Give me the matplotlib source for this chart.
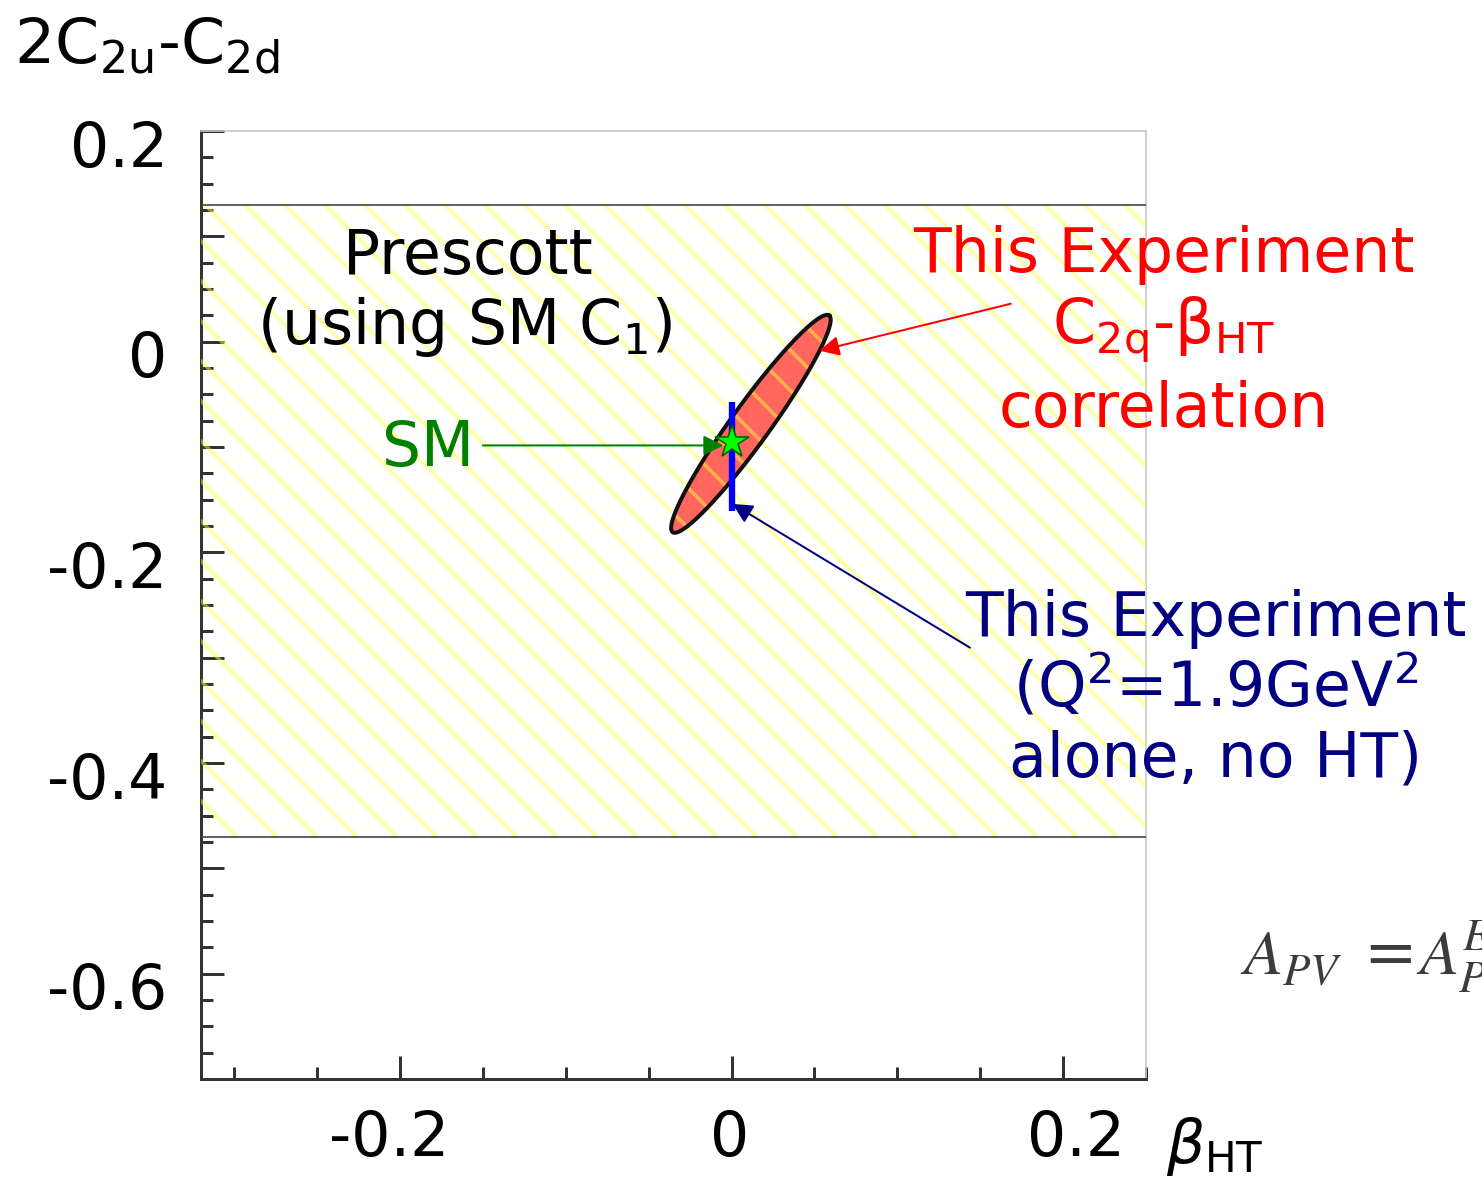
import numpy as np
import matplotlib
matplotlib.use("Agg")
import matplotlib.pyplot as plt
from matplotlib.ticker import MultipleLocator, FixedLocator, FuncFormatter
from matplotlib.transforms import ScaledTranslation

# ---------------- data ----------------
x_range = [-0.32, 0.25]
y_range = [-0.70, 0.20]
prescott_band = [-0.47, 0.13]           # allowed band of 2C2u-C2d (Prescott)
ellipse_center = [0.0117, -0.078]        # this experiment, C2q-beta_HT correlation
ellipse_major = [0.0472, 0.1029]         # half major axis vector
ellipse_minor = [0.0094, -0.0108]        # half minor axis vector
sm_point = [0.0, -0.095]                 # Standard Model
alone_x = 0.0                            # Q^2=1.9 alone, no HT
alone_range = [-0.161, -0.057]
x_major = [-0.2, 0.0, 0.2]
y_major_labels = {0.2: "0.2", 0.0: "0", -0.2: "-0.2", -0.4: "-0.4", -0.6: "-0.6"}

DPI = 120
fig = plt.figure(figsize=(1482 / DPI, 1180 / DPI), dpi=DPI)
plt.rcParams['font.family'] = ['DejaVu Sans']
plt.rcParams['mathtext.default'] = 'regular'
plt.rcParams['hatch.linewidth'] = 2.2

ax = fig.add_axes([201 / 1482, 101 / 1180, 945 / 1482, 948 / 1180])
ax.set_xlim(*x_range)
ax.set_ylim(*y_range)

# ellipse (filled, below the hatch)
t = np.linspace(0, 2 * np.pi, 300)
ex = ellipse_center[0] + ellipse_major[0] * np.cos(t) + ellipse_minor[0] * np.sin(t)
ey = ellipse_center[1] + ellipse_major[1] * np.cos(t) + ellipse_minor[1] * np.sin(t)
ax.fill(ex, ey, facecolor=(1.0, 0.40, 0.37), edgecolor='none', zorder=2)

# Prescott band hatch (drawn over the ellipse, semi-transparent yellow)
ax.fill_between(x_range, prescott_band[0], prescott_band[1], facecolor='none',
                edgecolor=(1.0, 1.0, 0.25, 0.48), hatch='\\', linewidth=0, zorder=3)
for yb in prescott_band:
    ax.axhline(yb, color='#444444', lw=1.0, zorder=3)

# ellipse outline
ax.plot(ex, ey, color='#111111', lw=2.4, zorder=4)

# blue line
ax.plot([alone_x, alone_x], alone_range, color=(0, 0, 1), lw=3.8, zorder=5,
        solid_capstyle='butt')

# SM star
ax.plot(sm_point[0], sm_point[1], marker='*', ms=21, color='#00ff00',
        markeredgecolor='#006600', markeredgewidth=1.0, zorder=7)

# arrows
ax.annotate('', xy=(-0.005, -0.0985), xytext=(-0.15, -0.0985),
            arrowprops=dict(arrowstyle='-|>', color='green', lw=1.2, mutation_scale=25,
                            shrinkA=0, shrinkB=0), zorder=6, annotation_clip=False)
ax.annotate('', xy=(0.053, -0.0086), xytext=(0.1684, 0.036),
            arrowprops=dict(arrowstyle='-|>', color='red', lw=1.2, mutation_scale=25,
                            shrinkA=0, shrinkB=0), zorder=6, annotation_clip=False)
ax.annotate('', xy=(0.0006, -0.154), xytext=(0.1438, -0.2905),
            arrowprops=dict(arrowstyle='-|>', color='#000080', lw=1.2, mutation_scale=25,
                            shrinkA=0, shrinkB=0), zorder=6, annotation_clip=False)

# texts
fs = 37
ax.text(-0.159, 0.064, "Prescott", fontsize=fs, ha='center', va='baseline', zorder=8)
ax.text(-0.161, -0.002, "(using SM C$_{1}$)", fontsize=fs, ha='center', va='baseline', zorder=8)
ax.text(-0.183, -0.118, "SM", fontsize=fs, color='green', ha='center', va='baseline', zorder=8)

red_x = 0.2605
ax.text(red_x, 0.066, "This Experiment", fontsize=fs, color='red', ha='center',
        va='baseline', clip_on=False)
ax.text(red_x, -0.002, r"C$_{2q}$-β$_{HT}$", fontsize=fs, color='red', ha='center',
        va='baseline', clip_on=False)
ax.text(red_x, -0.081, "correlation", fontsize=fs, color='red', ha='center',
        va='baseline', clip_on=False)

blue_x = 0.292
navy = '#000080'
ax.text(blue_x, -0.279, "This Experiment", fontsize=fs, color=navy, ha='center',
        va='baseline', clip_on=False)
ax.text(blue_x, -0.3467, "(Q$^{2}$=1.9GeV$^{2}$", fontsize=fs, color=navy, ha='center',
        va='baseline', clip_on=False)
ax.text(blue_x, -0.413, "alone, no HT)", fontsize=fs, color=navy, ha='center',
        va='baseline', clip_on=False)

# axes styling
for side in ['left', 'bottom']:
    ax.spines[side].set_color('#333333')
    ax.spines[side].set_linewidth(1.8)
for side in ['top', 'right']:
    ax.spines[side].set_color('#c8c8c8')
    ax.spines[side].set_linewidth(1.0)

ax.xaxis.set_major_locator(FixedLocator(x_major))
ax.xaxis.set_minor_locator(MultipleLocator(0.05))
ax.yaxis.set_major_locator(MultipleLocator(0.1))
ax.yaxis.set_minor_locator(MultipleLocator(0.025))
ax.xaxis.set_major_formatter(FuncFormatter(lambda v, p: "0" if abs(v) < 1e-9 else f"{v:.1f}"))


def yfmt(v, p):
    for k, s in y_major_labels.items():
        if abs(v - k) < 1e-6:
            return s
    return ""


ax.yaxis.set_major_formatter(FuncFormatter(yfmt))
ax.tick_params(axis='both', which='major', direction='in', length=14, width=1.8,
               color='#333333', labelsize=37, top=False, right=False)
ax.tick_params(axis='both', which='minor', direction='in', length=7, width=1.8,
               color='#333333', top=False, right=False)
ax.tick_params(axis='x', which='major', pad=18)
ax.tick_params(axis='y', which='major', pad=20)
for lab in ax.get_yticklabels():
    lab.set_transform(lab.get_transform() + ScaledTranslation(0, -12 / DPI, fig.dpi_scale_trans))
x_label_shift = [-11, -2, 13]   # pixel offsets of x tick labels as in the original
for lab, dx in zip(ax.get_xticklabels(), x_label_shift):
    lab.set_transform(lab.get_transform() + ScaledTranslation(dx / DPI, 0, fig.dpi_scale_trans))

# axis labels
fig.text(14 / 1482, (1180 - 63) / 1180, "2C$_{2u}$-C$_{2d}$", fontsize=38,
         ha='left', va='baseline')
fig.text(1166 / 1482, (1180 - 1163) / 1180, r"$\mathit{\beta}_{HT}$", fontsize=36,
         ha='left', va='baseline')

# partial formula at right edge (cut off in the original as well)
fig.text(1240 / 1482, (1180 - 975) / 1180,
         r"$\mathit{A}_{\mathit{PV}}\ =\!\mathit{A}^{\mathit{E}}_{\mathit{P}}$",
         fontsize=38.5, color='#3c3c3c', ha='left', va='baseline', math_fontfamily='stix')

fig.savefig("out.png", dpi=DPI)
